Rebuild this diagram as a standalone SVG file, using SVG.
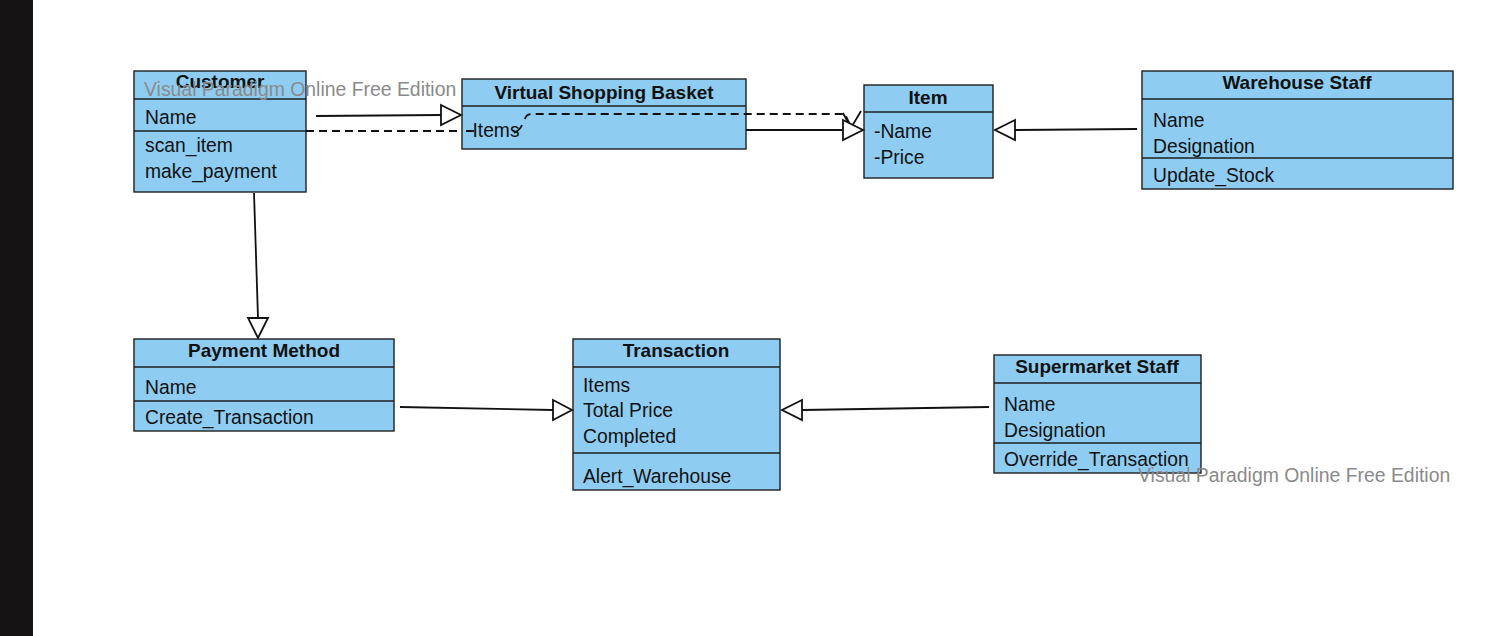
<svg xmlns="http://www.w3.org/2000/svg" width="1498" height="636" viewBox="0 0 1498 636">
<style>
.box{fill:#8ecdf1;stroke:#1e1e1e;stroke-width:1.4}
.div{stroke:#1e1e1e;stroke-width:1.4}
.t{font-family:"Liberation Sans",Arial,sans-serif;font-size:19.3px;fill:#111}
.h{font-family:"Liberation Sans",Arial,sans-serif;font-size:19px;font-weight:bold;fill:#111;text-anchor:middle}
.wm{font-family:"Liberation Sans",Arial,sans-serif;font-size:19.4px;fill:#8a8a8a}
.ln{fill:none;stroke:#111;stroke-width:1.8}
.dash{fill:none;stroke:#111;stroke-width:1.8;stroke-dasharray:8,5}
.tri{fill:#fff;stroke:#111;stroke-width:1.8;stroke-linejoin:miter}
</style>
<rect x="0" y="0" width="1498" height="636" fill="#fff"/>
<rect x="0" y="0" width="33" height="636" fill="#151314"/>

<g id="customer">
  <rect class="box" x="134" y="71" width="172" height="121"/>
  <line class="div" x1="134" y1="99" x2="306" y2="99"/>
  <line class="div" x1="134" y1="131" x2="306" y2="131"/>
  <text class="h" x="220" y="88">Customer</text>
  <text class="t" x="145" y="124">Name</text>
  <text class="t" x="145" y="152">scan_item</text>
  <text class="t" x="145" y="178">make_payment</text>
</g>

<g id="virtual-shopping-basket">
  <rect class="box" x="462" y="79" width="284" height="70"/>
  <line class="div" x1="462" y1="106" x2="746" y2="106"/>
  <text class="h" x="604" y="99">Virtual Shopping Basket</text>
  <text class="t" x="466" y="137">-Items</text>
</g>

<g id="item">
  <rect class="box" x="864" y="85" width="129" height="93"/>
  <line class="div" x1="864" y1="112" x2="993" y2="112"/>
  <text class="h" x="928" y="104">Item</text>
  <text class="t" x="874" y="138">-Name</text>
  <text class="t" x="874" y="164">-Price</text>
</g>

<g id="warehouse-staff">
  <rect class="box" x="1142" y="71" width="311" height="118"/>
  <line class="div" x1="1142" y1="99" x2="1453" y2="99"/>
  <line class="div" x1="1142" y1="158" x2="1453" y2="158"/>
  <text class="h" x="1297" y="89">Warehouse Staff</text>
  <text class="t" x="1153" y="127">Name</text>
  <text class="t" x="1153" y="153">Designation</text>
  <text class="t" x="1153" y="182">Update_Stock</text>
</g>

<g id="payment-method">
  <rect class="box" x="134" y="339" width="260" height="92"/>
  <line class="div" x1="134" y1="367" x2="394" y2="367"/>
  <line class="div" x1="134" y1="401" x2="394" y2="401"/>
  <text class="h" x="264" y="357">Payment Method</text>
  <text class="t" x="145" y="394">Name</text>
  <text class="t" x="145" y="424">Create_Transaction</text>
</g>

<g id="transaction">
  <rect class="box" x="573" y="339" width="207" height="151"/>
  <line class="div" x1="573" y1="367" x2="780" y2="367"/>
  <line class="div" x1="573" y1="453" x2="780" y2="453"/>
  <text class="h" x="676" y="357">Transaction</text>
  <text class="t" x="583" y="392">Items</text>
  <text class="t" x="583" y="417">Total Price</text>
  <text class="t" x="583" y="443">Completed</text>
  <text class="t" x="583" y="483">Alert_Warehouse</text>
</g>

<g id="supermarket-staff">
  <rect class="box" x="994" y="355" width="207" height="118"/>
  <line class="div" x1="994" y1="383" x2="1201" y2="383"/>
  <line class="div" x1="994" y1="443" x2="1201" y2="443"/>
  <text class="h" x="1097" y="373">Supermarket Staff</text>
  <text class="t" x="1004" y="411">Name</text>
  <text class="t" x="1004" y="437">Designation</text>
  <text class="t" x="1004" y="466">Override_Transaction</text>
</g>

<g id="connectors">
  <path class="ln" d="M316,116 L441,115"/>
  <polygon class="tri" points="441,105 461,115 441,125"/>
  <path class="dash" d="M306,131 L462,131"/>
  <path class="ln" d="M466,131 L474,131"/>
  <path class="ln" d="M514,133 Q520,130 522,125"/>
  <path class="dash" d="M525,119 Q526,114 532,114 L845,114 L851,127"/>
  <path class="ln" d="M843,113 L851,128 L861,111"/>
  <path class="ln" d="M746,130 L843,130"/>
  <polygon class="tri" points="843,120 863,130 843,140"/>
  <path class="ln" d="M1137,129 L1015,130"/>
  <polygon class="tri" points="1015,120 995,130 1015,140"/>
  <path class="ln" d="M254,193 L258,318"/>
  <polygon class="tri" points="248,318 268,318 258,338"/>
  <path class="ln" d="M400,407 L553,410"/>
  <polygon class="tri" points="553,400 572,410 553,420"/>
  <path class="ln" d="M989,407 L802,410"/>
  <polygon class="tri" points="802,400 782,410 802,420"/>
</g>

<g id="watermarks">
  <text class="wm" x="144" y="96">Visual Paradigm Online Free Edition</text>
  <text class="wm" x="1138" y="482">Visual Paradigm Online Free Edition</text>
</g>
</svg>
